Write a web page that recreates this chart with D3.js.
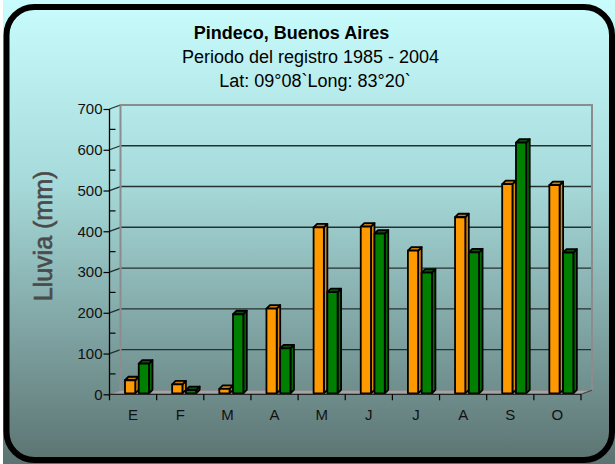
<!DOCTYPE html>
<html>
<head>
<meta charset="utf-8">
<script src="https://cdn.jsdelivr.net/npm/d3@7"></script>
<style>
  html, body { margin: 0; padding: 0; background: #ffffff; }
  svg { display: block; }
  text { font-family: "Liberation Sans", Arial, sans-serif; }
</style>
</head>
<body>
<script>
// ---- data ----
const categories = ["E", "F", "M", "A", "M", "J", "J", "A", "S", "O"];
const seriesOrange = [32, 22, 11, 208, 407, 409, 350, 432, 513, 511];
const seriesGreen  = [73, 8, 194, 110, 248, 392, 296, 346, 615, 345];
const yTicks = [0, 100, 200, 300, 400, 500, 600, 700];
const yMinorTicks = [50, 150, 250, 350, 450, 550, 650];
const titleLines = ["Pindeco, Buenos Aires", "Periodo del registro 1985 - 2004", "Lat: 09°08`Long: 83°20`"];
const yLabel = "Lluvia (mm)";

// ---- layout ----
const W = 615, H = 464;
const svg = d3.select("body").append("svg").attr("width", W).attr("height", H);

const defs = svg.append("defs");
const grad = defs.append("linearGradient").attr("id", "bg").attr("x1", 0).attr("y1", 0).attr("x2", 0).attr("y2", 1);
grad.append("stop").attr("offset", "0%").attr("stop-color", "#c9fcfc");
grad.append("stop").attr("offset", "40%").attr("stop-color", "#a6d9d9");
grad.append("stop").attr("offset", "100%").attr("stop-color", "#5b7371");

svg.append("rect").attr("width", W).attr("height", H).attr("fill", "#ffffff");
svg.append("rect").attr("x", 3).attr("y", 0).attr("width", W - 3).attr("height", H).attr("fill", "url(#bg)");

// scales
const xLeft = 109.5, xRight = 581;
const DX = 11, DY = 4;
const x0 = d3.scaleBand().domain(d3.range(categories.length)).range([xLeft, xRight]).padding(0);
const x1 = d3.scaleBand().domain([0, 1]).range([15.5, 43]).padding(0);
const y = d3.scaleLinear().domain([0, 700]).range([394.3, 109]);

// floor
const y0 = y(0);
svg.append("polygon")
  .attr("points", [[xLeft, y0], [xRight, y0], [xRight + DX, y0 - DY], [xLeft + DX, y0 - DY]].map(p => p.join(",")).join(" "))
  .attr("fill", "#9ea6a6").attr("stroke", "#8a8a8a").attr("stroke-width", 1);

// back wall gridlines
const g = svg.append("g");
yTicks.filter(v => v > 0 && v < 700).forEach(v => {
  g.append("line").attr("x1", xLeft + DX).attr("x2", xRight + DX)
    .attr("y1", y(v) - DY).attr("y2", y(v) - DY)
    .attr("stroke", "#243030").attr("stroke-width", 1.3);
});
// side wall diagonals
yTicks.filter(v => v > 0).forEach(v => {
  g.append("line").attr("x1", xLeft).attr("x2", xLeft + DX)
    .attr("y1", y(v)).attr("y2", y(v) - DY)
    .attr("stroke", "#243030").attr("stroke-width", 1.3);
});
// wall borders (gray)
g.append("polyline")
  .attr("points", [[xLeft + DX, y0 - DY], [xLeft + DX, y(700) - DY], [xRight + DX, y(700) - DY], [xRight + DX, y0 - DY]].map(p => p.join(",")).join(" "))
  .attr("fill", "none").attr("stroke", "#8c8c8c").attr("stroke-width", 2);

// bars
const BD = 3.5; // bar depth
const series = [
  { values: seriesOrange, front: "#ff9900", side: "#e08a00", top: "#c87a10" },
  { values: seriesGreen,  front: "#008000", side: "#006a00", top: "#0d4f0d" }
];
const bars = svg.append("g").attr("stroke", "#000").attr("stroke-width", 1.8).attr("stroke-linejoin", "round");
categories.forEach((c, i) => {
  series.forEach((s, k) => {
    const v = s.values[i];
    const x = x0(i) + x1(k);
    const w = x1.bandwidth() - BD;
    const yt = y(v) - 1, yb = y(0) - 1;
    const bg = bars.append("g");
    bg.append("polygon")
      .attr("points", [[x + w, yt], [x + w + BD, yt - BD], [x + w + BD, yb - BD], [x + w, yb]].map(p => p.join(",")).join(" "))
      .attr("fill", s.side);
    bg.append("polygon")
      .attr("points", [[x, yt], [x + BD, yt - BD], [x + w + BD, yt - BD], [x + w, yt]].map(p => p.join(",")).join(" "))
      .attr("fill", s.top);
    bg.append("rect").attr("x", x).attr("y", yt).attr("width", w).attr("height", yb - yt)
      .attr("fill", s.front);
  });
});

// y axis
const yAxis = d3.axisLeft(y).tickValues(yTicks).tickSize(6).tickSizeOuter(0).tickPadding(1);
const ya = svg.append("g").attr("transform", `translate(${xLeft},0)`).call(yAxis);
ya.select(".domain").remove();
ya.selectAll(".tick line").attr("stroke", "#000").attr("stroke-width", 1.2);
ya.selectAll(".tick text").attr("font-size", 15).attr("fill", "#111")
  .attr("font-family", "'Liberation Sans', Arial, sans-serif");
yMinorTicks.forEach(v => {
  svg.append("line").attr("x1", xLeft).attr("x2", xLeft + 6).attr("y1", y(v)).attr("y2", y(v))
    .attr("stroke", "#000").attr("stroke-width", 1.2);
});
svg.append("line").attr("x1", xLeft).attr("x2", xLeft).attr("y1", y(700)).attr("y2", y0 + 6)
  .attr("stroke", "#000").attr("stroke-width", 1.3);

// x axis
svg.append("line").attr("x1", xLeft).attr("x2", xRight).attr("y1", y0).attr("y2", y0)
  .attr("stroke", "#222").attr("stroke-width", 1.3);
svg.append("line").attr("x1", xRight).attr("x2", xRight + DX).attr("y1", y0).attr("y2", y0 - DY)
  .attr("stroke", "#444").attr("stroke-width", 1.2);
d3.range(1, categories.length + 1).forEach(i => {
  const bx = xLeft + i * x0.step();
  svg.append("line").attr("x1", bx).attr("x2", bx).attr("y1", y0).attr("y2", y0 + 6)
    .attr("stroke", "#000").attr("stroke-width", 1.2);
});
const xAxis = d3.axisBottom(x0).tickFormat(i => categories[i]).tickSize(0).tickPadding(15);
const xa = svg.append("g").attr("transform", `translate(0,${y0})`).call(xAxis);
xa.select(".domain").remove();
xa.selectAll(".tick text").attr("font-size", 15).attr("fill", "#111")
  .attr("font-family", "'Liberation Sans', Arial, sans-serif");

// y label
svg.append("text").attr("transform", "translate(52,236) rotate(-90)")
  .attr("text-anchor", "middle").attr("font-size", 25).attr("fill", "#4a4a4a")
  .attr("stroke", "#4a4a4a").attr("stroke-width", 0.6)
  .text(yLabel);

// titles
const tpos = [[291.5, 38.5, "bold"], [310.5, 63, "normal"], [315, 87, "normal"]];
titleLines.forEach((t, i) => {
  svg.append("text").attr("x", tpos[i][0]).attr("y", tpos[i][1])
    .attr("text-anchor", "middle").attr("font-size", 18).attr("font-weight", tpos[i][2])
    .attr("fill", "#000").text(t);
});

// frame
svg.append("rect").attr("x", 6.5).attr("y", 7).attr("width", 605.5).attr("height", 453)
  .attr("rx", 28).attr("ry", 28).attr("fill", "none").attr("stroke", "#000").attr("stroke-width", 6);
</script>
</body>
</html>
